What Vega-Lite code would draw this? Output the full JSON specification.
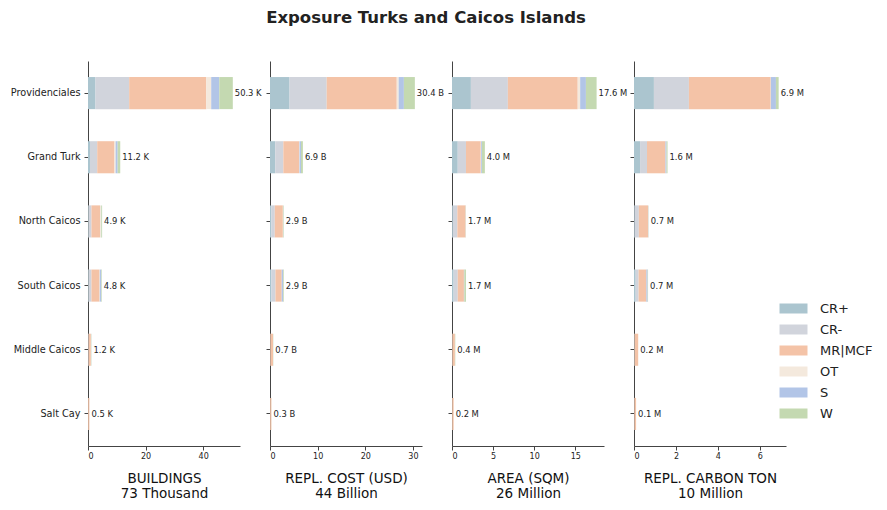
{
  "$schema": "https://vega.github.io/schema/vega-lite/v6.json",
  "padding": {"left": 10, "top": 9, "right": 5, "bottom": 5},
  "title": {"text": "Exposure Turks and Caicos Islands", "fontSize": 16.5, "fontWeight": "bold", "color": "#222222", "anchor": "start", "align": "center", "frame": "group", "dx": 338, "offset": 35},
  "config": {
    "font": "DejaVu Sans",
    "view": {"stroke": null},
    "axis": {"domainColor": "#444444", "tickColor": "#444444", "labelColor": "#222222", "titleColor": "#111111", "grid": false, "labelFontSize": 8, "titleFontSize": 13.5, "titleFontWeight": "normal", "titleLineHeight": 15, "tickSize": 4, "labelPadding": 2},
    "axisX": {"titlePadding": 11},
    "legend": {"labelFontSize": 13, "labelColor": "#222222"},
    "concat": {"spacing": 30}
  },
  "data": {"values": [
    {"metric": "bld", "island": "Providenciales", "cat": "CR+", "value": 2.6},
    {"metric": "bld", "island": "Providenciales", "cat": "CR-", "value": 11.7},
    {"metric": "bld", "island": "Providenciales", "cat": "MR|MCF", "value": 26.8},
    {"metric": "bld", "island": "Providenciales", "cat": "OT", "value": 1.7},
    {"metric": "bld", "island": "Providenciales", "cat": "S", "value": 2.8},
    {"metric": "bld", "island": "Providenciales", "cat": "W", "value": 4.7},
    {"metric": "bld", "island": "Grand Turk", "cat": "CR+", "value": 0.7},
    {"metric": "bld", "island": "Grand Turk", "cat": "CR-", "value": 2.5},
    {"metric": "bld", "island": "Grand Turk", "cat": "MR|MCF", "value": 6.0},
    {"metric": "bld", "island": "Grand Turk", "cat": "OT", "value": 0.4},
    {"metric": "bld", "island": "Grand Turk", "cat": "S", "value": 0.7},
    {"metric": "bld", "island": "Grand Turk", "cat": "W", "value": 0.9},
    {"metric": "bld", "island": "North Caicos", "cat": "CR+", "value": 0.2},
    {"metric": "bld", "island": "North Caicos", "cat": "CR-", "value": 1.0},
    {"metric": "bld", "island": "North Caicos", "cat": "MR|MCF", "value": 3.0},
    {"metric": "bld", "island": "North Caicos", "cat": "OT", "value": 0.3},
    {"metric": "bld", "island": "North Caicos", "cat": "S", "value": 0.1},
    {"metric": "bld", "island": "North Caicos", "cat": "W", "value": 0.3},
    {"metric": "bld", "island": "South Caicos", "cat": "CR+", "value": 0.2},
    {"metric": "bld", "island": "South Caicos", "cat": "CR-", "value": 1.0},
    {"metric": "bld", "island": "South Caicos", "cat": "MR|MCF", "value": 2.8},
    {"metric": "bld", "island": "South Caicos", "cat": "OT", "value": 0.1},
    {"metric": "bld", "island": "South Caicos", "cat": "S", "value": 0.5},
    {"metric": "bld", "island": "South Caicos", "cat": "W", "value": 0.2},
    {"metric": "bld", "island": "Middle Caicos", "cat": "CR+", "value": 0.05},
    {"metric": "bld", "island": "Middle Caicos", "cat": "CR-", "value": 0.15},
    {"metric": "bld", "island": "Middle Caicos", "cat": "MR|MCF", "value": 0.8},
    {"metric": "bld", "island": "Middle Caicos", "cat": "OT", "value": 0.05},
    {"metric": "bld", "island": "Middle Caicos", "cat": "S", "value": 0.05},
    {"metric": "bld", "island": "Middle Caicos", "cat": "W", "value": 0.1},
    {"metric": "bld", "island": "Salt Cay", "cat": "CR+", "value": 0.02},
    {"metric": "bld", "island": "Salt Cay", "cat": "CR-", "value": 0.05},
    {"metric": "bld", "island": "Salt Cay", "cat": "MR|MCF", "value": 0.4},
    {"metric": "bld", "island": "Salt Cay", "cat": "OT", "value": 0.01},
    {"metric": "bld", "island": "Salt Cay", "cat": "S", "value": 0.01},
    {"metric": "bld", "island": "Salt Cay", "cat": "W", "value": 0.01},
    {"metric": "cost", "island": "Providenciales", "cat": "CR+", "value": 4.1},
    {"metric": "cost", "island": "Providenciales", "cat": "CR-", "value": 7.8},
    {"metric": "cost", "island": "Providenciales", "cat": "MR|MCF", "value": 14.7},
    {"metric": "cost", "island": "Providenciales", "cat": "OT", "value": 0.4},
    {"metric": "cost", "island": "Providenciales", "cat": "S", "value": 1.1},
    {"metric": "cost", "island": "Providenciales", "cat": "W", "value": 2.3},
    {"metric": "cost", "island": "Grand Turk", "cat": "CR+", "value": 1.1},
    {"metric": "cost", "island": "Grand Turk", "cat": "CR-", "value": 1.7},
    {"metric": "cost", "island": "Grand Turk", "cat": "MR|MCF", "value": 3.3},
    {"metric": "cost", "island": "Grand Turk", "cat": "OT", "value": 0.1},
    {"metric": "cost", "island": "Grand Turk", "cat": "S", "value": 0.3},
    {"metric": "cost", "island": "Grand Turk", "cat": "W", "value": 0.4},
    {"metric": "cost", "island": "North Caicos", "cat": "CR+", "value": 0.3},
    {"metric": "cost", "island": "North Caicos", "cat": "CR-", "value": 0.7},
    {"metric": "cost", "island": "North Caicos", "cat": "MR|MCF", "value": 1.7},
    {"metric": "cost", "island": "North Caicos", "cat": "OT", "value": 0.05},
    {"metric": "cost", "island": "North Caicos", "cat": "S", "value": 0.05},
    {"metric": "cost", "island": "North Caicos", "cat": "W", "value": 0.1},
    {"metric": "cost", "island": "South Caicos", "cat": "CR+", "value": 0.3},
    {"metric": "cost", "island": "South Caicos", "cat": "CR-", "value": 0.85},
    {"metric": "cost", "island": "South Caicos", "cat": "MR|MCF", "value": 1.3},
    {"metric": "cost", "island": "South Caicos", "cat": "OT", "value": 0.0},
    {"metric": "cost", "island": "South Caicos", "cat": "S", "value": 0.3},
    {"metric": "cost", "island": "South Caicos", "cat": "W", "value": 0.15},
    {"metric": "cost", "island": "Middle Caicos", "cat": "CR+", "value": 0.03},
    {"metric": "cost", "island": "Middle Caicos", "cat": "CR-", "value": 0.05},
    {"metric": "cost", "island": "Middle Caicos", "cat": "MR|MCF", "value": 0.55},
    {"metric": "cost", "island": "Middle Caicos", "cat": "OT", "value": 0.01},
    {"metric": "cost", "island": "Middle Caicos", "cat": "S", "value": 0.01},
    {"metric": "cost", "island": "Middle Caicos", "cat": "W", "value": 0.05},
    {"metric": "cost", "island": "Salt Cay", "cat": "CR+", "value": 0.01},
    {"metric": "cost", "island": "Salt Cay", "cat": "CR-", "value": 0.03},
    {"metric": "cost", "island": "Salt Cay", "cat": "MR|MCF", "value": 0.25},
    {"metric": "cost", "island": "Salt Cay", "cat": "OT", "value": 0.005},
    {"metric": "cost", "island": "Salt Cay", "cat": "S", "value": 0.005},
    {"metric": "cost", "island": "Salt Cay", "cat": "W", "value": 0.01},
    {"metric": "area", "island": "Providenciales", "cat": "CR+", "value": 2.3},
    {"metric": "area", "island": "Providenciales", "cat": "CR-", "value": 4.5},
    {"metric": "area", "island": "Providenciales", "cat": "MR|MCF", "value": 8.5},
    {"metric": "area", "island": "Providenciales", "cat": "OT", "value": 0.3},
    {"metric": "area", "island": "Providenciales", "cat": "S", "value": 0.7},
    {"metric": "area", "island": "Providenciales", "cat": "W", "value": 1.3},
    {"metric": "area", "island": "Grand Turk", "cat": "CR+", "value": 0.7},
    {"metric": "area", "island": "Grand Turk", "cat": "CR-", "value": 1.0},
    {"metric": "area", "island": "Grand Turk", "cat": "MR|MCF", "value": 1.8},
    {"metric": "area", "island": "Grand Turk", "cat": "OT", "value": 0.05},
    {"metric": "area", "island": "Grand Turk", "cat": "S", "value": 0.1},
    {"metric": "area", "island": "Grand Turk", "cat": "W", "value": 0.35},
    {"metric": "area", "island": "North Caicos", "cat": "CR+", "value": 0.1},
    {"metric": "area", "island": "North Caicos", "cat": "CR-", "value": 0.55},
    {"metric": "area", "island": "North Caicos", "cat": "MR|MCF", "value": 1.0},
    {"metric": "area", "island": "North Caicos", "cat": "OT", "value": 0.02},
    {"metric": "area", "island": "North Caicos", "cat": "S", "value": 0.01},
    {"metric": "area", "island": "North Caicos", "cat": "W", "value": 0.02},
    {"metric": "area", "island": "South Caicos", "cat": "CR+", "value": 0.2},
    {"metric": "area", "island": "South Caicos", "cat": "CR-", "value": 0.5},
    {"metric": "area", "island": "South Caicos", "cat": "MR|MCF", "value": 0.75},
    {"metric": "area", "island": "South Caicos", "cat": "OT", "value": 0.0},
    {"metric": "area", "island": "South Caicos", "cat": "S", "value": 0.05},
    {"metric": "area", "island": "South Caicos", "cat": "W", "value": 0.2},
    {"metric": "area", "island": "Middle Caicos", "cat": "CR+", "value": 0.02},
    {"metric": "area", "island": "Middle Caicos", "cat": "CR-", "value": 0.03},
    {"metric": "area", "island": "Middle Caicos", "cat": "MR|MCF", "value": 0.3},
    {"metric": "area", "island": "Middle Caicos", "cat": "OT", "value": 0.0},
    {"metric": "area", "island": "Middle Caicos", "cat": "S", "value": 0.0},
    {"metric": "area", "island": "Middle Caicos", "cat": "W", "value": 0.05},
    {"metric": "area", "island": "Salt Cay", "cat": "CR+", "value": 0.01},
    {"metric": "area", "island": "Salt Cay", "cat": "CR-", "value": 0.02},
    {"metric": "area", "island": "Salt Cay", "cat": "MR|MCF", "value": 0.17},
    {"metric": "area", "island": "Salt Cay", "cat": "OT", "value": 0.0},
    {"metric": "area", "island": "Salt Cay", "cat": "S", "value": 0.0},
    {"metric": "area", "island": "Salt Cay", "cat": "W", "value": 0.0},
    {"metric": "carbon", "island": "Providenciales", "cat": "CR+", "value": 0.95},
    {"metric": "carbon", "island": "Providenciales", "cat": "CR-", "value": 1.67},
    {"metric": "carbon", "island": "Providenciales", "cat": "MR|MCF", "value": 3.9},
    {"metric": "carbon", "island": "Providenciales", "cat": "OT", "value": 0.01},
    {"metric": "carbon", "island": "Providenciales", "cat": "S", "value": 0.24},
    {"metric": "carbon", "island": "Providenciales", "cat": "W", "value": 0.13},
    {"metric": "carbon", "island": "Grand Turk", "cat": "CR+", "value": 0.29},
    {"metric": "carbon", "island": "Grand Turk", "cat": "CR-", "value": 0.33},
    {"metric": "carbon", "island": "Grand Turk", "cat": "MR|MCF", "value": 0.88},
    {"metric": "carbon", "island": "Grand Turk", "cat": "OT", "value": 0.0},
    {"metric": "carbon", "island": "Grand Turk", "cat": "S", "value": 0.05},
    {"metric": "carbon", "island": "Grand Turk", "cat": "W", "value": 0.05},
    {"metric": "carbon", "island": "North Caicos", "cat": "CR+", "value": 0.03},
    {"metric": "carbon", "island": "North Caicos", "cat": "CR-", "value": 0.2},
    {"metric": "carbon", "island": "North Caicos", "cat": "MR|MCF", "value": 0.44},
    {"metric": "carbon", "island": "North Caicos", "cat": "OT", "value": 0.01},
    {"metric": "carbon", "island": "North Caicos", "cat": "S", "value": 0.01},
    {"metric": "carbon", "island": "North Caicos", "cat": "W", "value": 0.01},
    {"metric": "carbon", "island": "South Caicos", "cat": "CR+", "value": 0.08},
    {"metric": "carbon", "island": "South Caicos", "cat": "CR-", "value": 0.14},
    {"metric": "carbon", "island": "South Caicos", "cat": "MR|MCF", "value": 0.37},
    {"metric": "carbon", "island": "South Caicos", "cat": "OT", "value": 0.0},
    {"metric": "carbon", "island": "South Caicos", "cat": "S", "value": 0.06},
    {"metric": "carbon", "island": "South Caicos", "cat": "W", "value": 0.02},
    {"metric": "carbon", "island": "Middle Caicos", "cat": "CR+", "value": 0.01},
    {"metric": "carbon", "island": "Middle Caicos", "cat": "CR-", "value": 0.02},
    {"metric": "carbon", "island": "Middle Caicos", "cat": "MR|MCF", "value": 0.17},
    {"metric": "carbon", "island": "Middle Caicos", "cat": "OT", "value": 0.0},
    {"metric": "carbon", "island": "Middle Caicos", "cat": "S", "value": 0.0},
    {"metric": "carbon", "island": "Middle Caicos", "cat": "W", "value": 0.0},
    {"metric": "carbon", "island": "Salt Cay", "cat": "CR+", "value": 0.01},
    {"metric": "carbon", "island": "Salt Cay", "cat": "CR-", "value": 0.01},
    {"metric": "carbon", "island": "Salt Cay", "cat": "MR|MCF", "value": 0.08},
    {"metric": "carbon", "island": "Salt Cay", "cat": "OT", "value": 0.0},
    {"metric": "carbon", "island": "Salt Cay", "cat": "S", "value": 0.0},
    {"metric": "carbon", "island": "Salt Cay", "cat": "W", "value": 0.0}
  ]},
  "bounds": "flush",
  "hconcat": [
    {
      "width": 152, "height": 385,
      "transform": [{"filter": "datum.metric === 'bld'"}],
      "layer": [
        {
          "mark": {"type": "bar"},
          "encoding": {
            "y": {"field": "island", "type": "nominal", "sort": ["Providenciales", "Grand Turk", "North Caicos", "South Caicos", "Middle Caicos", "Salt Cay"], "scale": {"paddingInner": 0.5, "paddingOuter": 0.25}, "axis": {"title": null, "labelFontSize": 9.7, "labelPadding": 4}},
            "x": {"field": "value", "type": "quantitative", "aggregate": "sum", "stack": "zero", "scale": {"domain": [0, 52.8], "nice": false}, "axis": {"title": ["BUILDINGS", "73 Thousand"], "values": [0, 20, 40]}},
            "color": {"field": "cat", "type": "nominal", "scale": {"domain": ["CR+", "CR-", "MR|MCF", "OT", "S", "W"], "range": ["#abc5cf", "#d1d4dc", "#f4c3a7", "#f4e9dd", "#b2c5e7", "#c4d9b1"]}, "legend": {"title": null, "orient": "none", "legendX": 699, "legendY": 241, "symbolType": "M-2.8,-1H2.8V1H-2.8Z", "symbolSize": 100, "symbolStrokeWidth": 0, "labelOffset": 20, "rowPadding": 7}},
            "order": {"field": "cat"}
          }
        },
        {
          "transform": [{"aggregate": [{"op": "sum", "field": "value", "as": "total"}], "groupby": ["island"]}, {"calculate": "format(datum.total, '.1f') + ' K'", "as": "label"}],
          "mark": {"type": "text", "align": "left", "baseline": "middle", "dx": 2, "fontSize": 8.4, "color": "#222222"},
          "encoding": {
            "y": {"field": "island", "type": "nominal", "sort": ["Providenciales", "Grand Turk", "North Caicos", "South Caicos", "Middle Caicos", "Salt Cay"]},
            "x": {"field": "total", "type": "quantitative"},
            "text": {"field": "label"}
          }
        }
      ]
    },
    {
      "width": 152, "height": 385,
      "transform": [{"filter": "datum.metric === 'cost'"}],
      "layer": [
        {
          "mark": {"type": "bar"},
          "encoding": {
            "y": {"field": "island", "type": "nominal", "sort": ["Providenciales", "Grand Turk", "North Caicos", "South Caicos", "Middle Caicos", "Salt Cay"], "scale": {"paddingInner": 0.5, "paddingOuter": 0.25}, "axis": {"title": null, "labels": false}},
            "x": {"field": "value", "type": "quantitative", "aggregate": "sum", "stack": "zero", "scale": {"domain": [0, 31.9], "nice": false}, "axis": {"title": ["REPL. COST (USD)", "44 Billion"], "values": [0, 10, 20, 30]}},
            "color": {"field": "cat", "type": "nominal"},
            "order": {"field": "cat"}
          }
        },
        {
          "transform": [{"aggregate": [{"op": "sum", "field": "value", "as": "total"}], "groupby": ["island"]}, {"calculate": "format(datum.total, '.1f') + ' B'", "as": "label"}],
          "mark": {"type": "text", "align": "left", "baseline": "middle", "dx": 2, "fontSize": 8.4, "color": "#222222"},
          "encoding": {
            "y": {"field": "island", "type": "nominal", "sort": ["Providenciales", "Grand Turk", "North Caicos", "South Caicos", "Middle Caicos", "Salt Cay"]},
            "x": {"field": "total", "type": "quantitative"},
            "text": {"field": "label"}
          }
        }
      ]
    },
    {
      "width": 152, "height": 385,
      "transform": [{"filter": "datum.metric === 'area'"}],
      "layer": [
        {
          "mark": {"type": "bar"},
          "encoding": {
            "y": {"field": "island", "type": "nominal", "sort": ["Providenciales", "Grand Turk", "North Caicos", "South Caicos", "Middle Caicos", "Salt Cay"], "scale": {"paddingInner": 0.5, "paddingOuter": 0.25}, "axis": {"title": null, "labels": false}},
            "x": {"field": "value", "type": "quantitative", "aggregate": "sum", "stack": "zero", "scale": {"domain": [0, 18.5], "nice": false}, "axis": {"title": ["AREA (SQM)", "26 Million"], "values": [0, 5, 10, 15]}},
            "color": {"field": "cat", "type": "nominal"},
            "order": {"field": "cat"}
          }
        },
        {
          "transform": [{"aggregate": [{"op": "sum", "field": "value", "as": "total"}], "groupby": ["island"]}, {"calculate": "format(datum.total, '.1f') + ' M'", "as": "label"}],
          "mark": {"type": "text", "align": "left", "baseline": "middle", "dx": 2, "fontSize": 8.4, "color": "#222222"},
          "encoding": {
            "y": {"field": "island", "type": "nominal", "sort": ["Providenciales", "Grand Turk", "North Caicos", "South Caicos", "Middle Caicos", "Salt Cay"]},
            "x": {"field": "total", "type": "quantitative"},
            "text": {"field": "label"}
          }
        }
      ]
    },
    {
      "width": 152, "height": 385,
      "transform": [{"filter": "datum.metric === 'carbon'"}],
      "layer": [
        {
          "mark": {"type": "bar"},
          "encoding": {
            "y": {"field": "island", "type": "nominal", "sort": ["Providenciales", "Grand Turk", "North Caicos", "South Caicos", "Middle Caicos", "Salt Cay"], "scale": {"paddingInner": 0.5, "paddingOuter": 0.25}, "axis": {"title": null, "labels": false}},
            "x": {"field": "value", "type": "quantitative", "aggregate": "sum", "stack": "zero", "scale": {"domain": [0, 7.25], "nice": false}, "axis": {"title": ["REPL. CARBON TON", "10 Million"], "values": [0, 2, 4, 6]}},
            "color": {"field": "cat", "type": "nominal"},
            "order": {"field": "cat"}
          }
        },
        {
          "transform": [{"aggregate": [{"op": "sum", "field": "value", "as": "total"}], "groupby": ["island"]}, {"calculate": "format(datum.total, '.1f') + ' M'", "as": "label"}],
          "mark": {"type": "text", "align": "left", "baseline": "middle", "dx": 2, "fontSize": 8.4, "color": "#222222"},
          "encoding": {
            "y": {"field": "island", "type": "nominal", "sort": ["Providenciales", "Grand Turk", "North Caicos", "South Caicos", "Middle Caicos", "Salt Cay"]},
            "x": {"field": "total", "type": "quantitative"},
            "text": {"field": "label"}
          }
        }
      ]
    }
  ]
}
